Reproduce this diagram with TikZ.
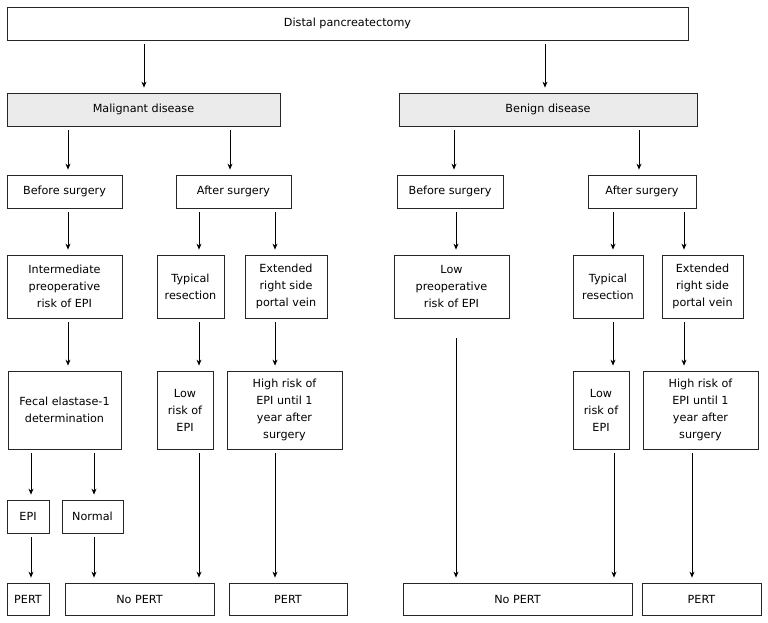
\documentclass[tikz,border=0pt]{standalone}
\usepackage{fontspec}
\setmainfont{DejaVu Sans}
\usetikzlibrary{arrows.meta}

\begin{document}
\begin{tikzpicture}[x=1pt,y=-1pt,
  box/.style={draw=black!85,line width=0.8pt,inner sep=0pt,align=center,
    font=\fontsize{11.2}{17}\selectfont},
  wh/.style 2 args={minimum width=#1pt,minimum height=#2pt},
  dis/.style={box,fill=black!8},
  arr/.style={-{Stealth[length=6pt,width=5pt]},line width=0.8pt,
    shorten <=4pt,shorten >=5pt}]
  \useasboundingbox (0,0) rectangle (768,623);
  % top and disease type
  \node[box,wh={681}{33}] (top) at (347.5,23.5) {Distal pancreatectomy};
  \node[dis,wh={273}{33}] (mal) at (143.5,109.5) {Malignant disease};
  \node[dis,wh={298}{33}] (ben) at (548,109.5) {Benign disease};
  % timing
  \node[box,wh={115}{33}] (mbef) at (64.5,191.5) {Before surgery};
  \node[box,wh={115}{33}] (maft) at (233.5,191.5) {After surgery};
  \node[box,wh={106}{33}] (bbef) at (450,191.5) {Before surgery};
  \node[box,wh={108}{33}] (baft) at (642,191.5) {After surgery};
  % risk / resection
  \node[box,wh={115}{63}] (mint) at (64.5,286.5) {Intermediate\\preoperative\\risk of EPI};
  \node[box,wh={67}{63}] (mtyp) at (190.5,286.5) {Typical\\resection};
  \node[box,wh={82}{63}] (mext) at (286,286.5) {Extended\\right side\\portal vein};
  \node[box,wh={115}{63}] (blow) at (451.5,286.5) {Low\\preoperative\\risk of EPI};
  \node[box,wh={70}{63}] (btyp) at (608,286.5) {Typical\\resection};
  \node[box,wh={81}{63}] (bext) at (702.5,286.5) {Extended\\right side\\portal vein};
  % outcome
  \node[box,wh={113}{78}] (mfec) at (64.5,410) {Fecal elastase-1\\determination};
  \node[box,wh={56}{78}] (mlow) at (185,410) {Low\\risk of\\EPI};
  \node[box,wh={115}{78}] (mhigh) at (284.5,410) {High risk of\\EPI until 1\\year after\\surgery};
  \node[box,wh={56}{78}] (blowr) at (601,410) {Low\\risk of\\EPI};
  \node[box,wh={115}{78}] (bhigh) at (700.5,410) {High risk of\\EPI until 1\\year after\\surgery};
  % test result
  \node[box,wh={42}{33}] (epi) at (28,516.5) {EPI};
  \node[box,wh={61}{33}] (norm) at (92.5,516.5) {Normal};
  % therapy
  \node[box,wh={42}{32}] (pert1) at (28,599) {PERT};
  \node[box,wh={149}{32}] (nop1) at (139.5,599) {No PERT};
  \node[box,wh={118}{32}] (pert2) at (288,599) {PERT};
  \node[box,wh={229}{32}] (nop2) at (517.5,599) {No PERT};
  \node[box,wh={119}{32}] (pert3) at (701.5,599) {PERT};
  % arrows
  \foreach \a/\b/\x in {top/mal/144,top/ben/545,mal/mbef/68,mal/maft/230,
      ben/bbef/454,ben/baft/639,mbef/mint/68,maft/mtyp/199,maft/mext/275,
      bbef/blow/456,baft/btyp/613,baft/bext/684,mint/mfec/68,mtyp/mlow/199,
      mext/mhigh/275,btyp/blowr/613,bext/bhigh/684,mfec/epi/31,mfec/norm/94,
      mlow/nop1/199,mhigh/pert2/275,blowr/nop2/614,bhigh/pert3/692,
      epi/pert1/31,norm/nop1/94}
    \draw[arr] (\a.south -| \x,0) -- (\b.north -| \x,0);
  \draw[arr,shorten <=20pt] (blow.south -| 456,0) -- (nop2.north -| 456,0);
\end{tikzpicture}
\end{document}
